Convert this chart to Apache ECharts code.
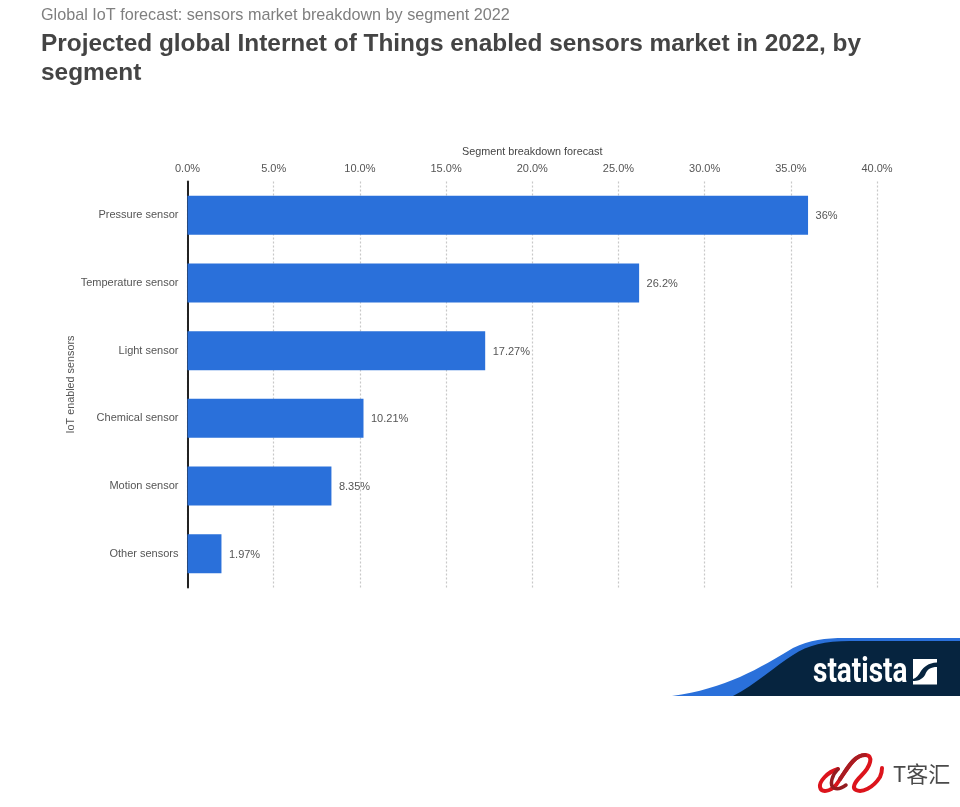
<!DOCTYPE html>
<html>
<head>
<meta charset="utf-8">
<title>IoT sensors</title>
<style>
    html, body { margin: 0; padding: 0; background: #fff; }
    #chart { width: 960px; height: 807px; }
</style>
<script src="https://cdn.jsdelivr.net/npm/echarts@6/dist/echarts.min.js"></script>
</head>
<body>
<div id="chart"></div>
<script>
const categories = ["Pressure sensor", "Temperature sensor", "Light sensor", "Chemical sensor", "Motion sensor", "Other sensors"];
const shares = [36, 26.2, 17.27, 10.21, 8.35, 1.97];
const shareLabels = ["36%", "26.2%", "17.27%", "10.21%", "8.35%", "1.97%"];

const colorBar = "#2a70da";
const colorNavy = "#06243f";
const colorText = "#555555";
const fontSans = "'Liberation Sans', Arial, sans-serif";

// graphic has no plain svg path element, so the logo shapes get registered
const logoPaths = {
    logoWave: "M672 696 C725 689 760 668 793 648 C810 640 825 638 845 638 L960 638 L960 696 Z",
    logoDark: "M733 696 C755 685 775 666 793 655 C808 645 825 641 850 641 L960 641 L960 696 Z",
    logoSquareTop: "M913 659 H937 V662.5 C928 663 924 667 921 671 C919 675 916 678 913 679 Z",
    logoSquareBottom: "M937 667 C931 667 927 669 925 675 C922 680 917 681 913 681 V684.5 H937 Z",
    logoRibbon: "M838 769 C827 772 819 782 820 787 C821 793 830 792 836 785 C845 773 853 755 865 755 C874 755 871 766 861 776 C854 783 852 788 856 790 C862 793 873 788 880 777 C882 773 882 770 882 768",
    logoRibbonInner: "M838 769 C832 775 829 785 834 788 C838 790 842 788 846 785",
    logoRibbonStem: "M840 779 C847 769 854 755 865 755"
};
Object.keys(logoPaths).forEach(name => {
    echarts.graphic.registerShape(name, echarts.graphic.extendPath(logoPaths[name], {}));
});

let chart = echarts.init(document.getElementById("chart"), null, { renderer: "canvas" });
chart.setOption({
    animation: false,
    backgroundColor: "#ffffff",
    textStyle: { fontFamily: fontSans },
    grid: { left: 187.5, right: 83, top: 181.5, bottom: 219.5, containLabel: false },
    xAxis: {
        type: "value",
        position: "top",
        min: 0,
        max: 40,
        interval: 5,
        name: "Segment breakdown forecast",
        nameLocation: "center",
        nameGap: 23.5,
        nameTextStyle: { color: "#444444", fontSize: 10.8 },
        axisLine: { show: false },
        axisTick: { show: false },
        axisLabel: {
            color: colorText,
            fontSize: 11,
            margin: 7,
            formatter: value => value.toFixed(1) + "%"
        },
        splitLine: {
            lineStyle: { color: "#c8c8c8", type: [2, 2], width: 1.2 }
        }
    },
    yAxis: {
        type: "category",
        inverse: true,
        data: categories,
        name: "IoT enabled sensors",
        nameLocation: "center",
        nameGap: 111,
        nameMoveOverlap: false,
        nameTextStyle: { color: colorText, fontSize: 10.8 },
        axisLine: { lineStyle: { color: "#222222", width: 2 } },
        axisTick: { show: false },
        axisLabel: { color: colorText, fontSize: 11, margin: 9 }
    },
    series: [
        {
            type: "bar",
            barWidth: 39,
            data: shares,
            itemStyle: { color: colorBar },
            z: 1,
            label: {
                show: true,
                position: "right",
                distance: 7.5,
                offset: [0, 1],
                color: colorText,
                fontSize: 11,
                formatter: params => shareLabels[params.dataIndex]
            }
        }
    ],
    graphic: [
        {
            type: "text",
            x: 41,
            y: 8,
            style: { text: "Global IoT forecast: sensors market breakdown by segment 2022", fill: "#7f7f7f", font: "16.2px " + fontSans }
        },
        {
            type: "text",
            x: 41,
            y: 30,
            style: {
                text: "Projected global Internet of Things enabled sensors market in 2022, by\nsegment",
                fill: "#444444",
                font: "bold 24.4px " + fontSans,
                lineHeight: 29
            }
        },
        // statista logo
        { type: "logoWave", style: { fill: colorBar } },
        { type: "logoDark", style: { fill: colorNavy } },
        {
            type: "text",
            x: 813,
            y: 655.5,
            scaleX: 0.8,
            style: { text: "statista", fill: "#ffffff", font: "bold 35px Roboto, sans-serif" }
        },
        { type: "logoSquareTop", style: { fill: "#ffffff" } },
        { type: "logoSquareBottom", style: { fill: "#ffffff" } },
        // T客汇 logo
        { type: "logoRibbon", style: { fill: "none", stroke: "#dc141c", lineWidth: 4, lineCap: "round" } },
        { type: "logoRibbonInner", style: { fill: "none", stroke: "#931b20", lineWidth: 3.5, lineCap: "round" } },
        { type: "logoRibbonStem", style: { fill: "none", stroke: "#a81c22", lineWidth: 4, lineCap: "round" } },
        {
            type: "text",
            x: 893,
            y: 763,
            style: { text: "T客汇", fill: "#4a4a4a", font: "22px 'Noto Sans CJK SC', sans-serif" }
        }
    ]
});
</script>
</body>
</html>
